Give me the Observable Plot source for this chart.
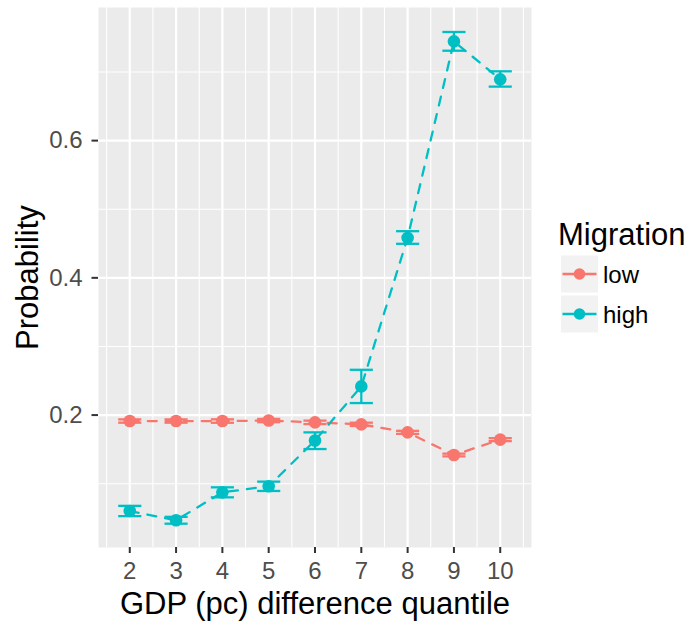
<!DOCTYPE html>
<html><head><meta charset="utf-8">
<script src="https://cdn.jsdelivr.net/npm/d3@7"></script>
<script src="https://cdn.jsdelivr.net/npm/@observablehq/plot@0.6"></script>
<style>
body{margin:0;background:#fff;}
#wrap{position:relative;width:689px;height:621px;font-family:"Liberation Sans",Arial,sans-serif;}
#legend{position:absolute;left:540px;top:200px;}
</style></head><body>
<div id="wrap"></div>
<script>
// ---- data ----
const quantiles = [2, 3, 4, 5, 6, 7, 8, 9, 10];
const groups = ["low", "high"];
const groupColors = ["#F8766D", "#00BFC4"];

const lowMean = [0.1913, 0.1913, 0.1913, 0.1920, 0.1894, 0.1865, 0.1748, 0.1418, 0.1642];
const lowLo   = [0.1889, 0.1889, 0.1888, 0.1896, 0.1869, 0.1841, 0.1726, 0.1398, 0.1620];
const lowHi   = [0.1937, 0.1937, 0.1938, 0.1944, 0.1919, 0.1889, 0.1770, 0.1438, 0.1664];

const highMean = [0.0602, 0.0467, 0.0874, 0.0962, 0.1630, 0.2418, 0.4583, 0.7446, 0.6893];
const highLo   = [0.0527, 0.0417, 0.0801, 0.0894, 0.1505, 0.2175, 0.4496, 0.7310, 0.6787];
const highHi   = [0.0677, 0.0517, 0.0947, 0.1030, 0.1748, 0.2660, 0.4680, 0.7583, 0.7010];

const yTicks = [0.2, 0.4, 0.6];
const yMinor = [0.1, 0.3, 0.5, 0.7];
const xMinor = [1.5, 2.5, 3.5, 4.5, 5.5, 6.5, 7.5, 8.5, 9.5, 10.5];

const xTitle = "GDP (pc) difference quantile";
const yTitle = "Probability";
const legendTitle = "Migration";

// ---- table ----
const series = {low: [lowMean, lowLo, lowHi], high: [highMean, highLo, highHi]};
const rows = [];
for (const g of groups) {
  const [m, lo, hi] = series[g];
  quantiles.forEach((q, i) => rows.push({q, group: g, mean: m[i], lo: lo[i], hi: hi[i]}));
}
const capHalf = 0.25; // errorbar width 0.5

const lw = 2.3;
const chart = Plot.plot({
  width: 689, height: 621,
  marginLeft: 98, marginRight: 158, marginTop: 7, marginBottom: 74,
  style: {fontFamily: "'Liberation Sans', Arial, sans-serif", background: "white", overflow: "visible"},
  x: {domain: [1.325, 10.675]},
  y: {domain: [0.007, 0.794]},
  color: {domain: groups, range: groupColors},
  marks: [
    Plot.frame({fill: "#EBEBEB", stroke: "none"}),
    Plot.gridX(xMinor, {stroke: "white", strokeOpacity: 1, strokeWidth: 1.1}),
    Plot.gridX(quantiles, {stroke: "white", strokeOpacity: 1, strokeWidth: 2.2}),
    Plot.gridY(yMinor, {stroke: "white", strokeOpacity: 1, strokeWidth: 1.1}),
    Plot.gridY(yTicks, {stroke: "white", strokeOpacity: 1, strokeWidth: 2.2}),
    Plot.axisX(quantiles, {tickSize: 6, tickPadding: 8, fontSize: 24, fill: "#4D4D4D", stroke: "#333333", strokeWidth: 2, label: null}),
    Plot.axisX({ticks: [], label: xTitle, labelAnchor: "center", labelArrow: "none", labelOffset: 66, fontSize: 31, fill: "black"}),
    Plot.axisY(yTicks, {tickSize: 6.5, tickPadding: 9.5, fontSize: 24, fill: "#4D4D4D", stroke: "#333333", strokeWidth: 2, tickFormat: ".1f", label: null}),
    Plot.axisY({ticks: [], label: yTitle, labelAnchor: "center", labelArrow: "none", labelOffset: 83, fontSize: 31, fill: "black"}),
    Plot.line(rows, {x: "q", y: "mean", z: "group", stroke: "group", strokeWidth: lw, strokeDasharray: "9,9"}),
    Plot.ruleX(rows, {x: "q", y1: "lo", y2: "hi", stroke: "group", strokeWidth: lw}),
    Plot.link(rows, {x1: d => d.q - capHalf, x2: d => d.q + capHalf, y1: "lo", y2: "lo", stroke: "group", strokeWidth: lw}),
    Plot.link(rows, {x1: d => d.q - capHalf, x2: d => d.q + capHalf, y1: "hi", y2: "hi", stroke: "group", strokeWidth: lw}),
    Plot.dot(rows, {x: "q", y: "mean", fill: "group", r: 6.3})
  ]
});
const wrap = document.getElementById("wrap");
wrap.appendChild(chart);

// ---- legend (right side) ----
const ns = "http://www.w3.org/2000/svg";
const leg = document.createElementNS(ns, "svg");
leg.setAttribute("id", "legend");
leg.setAttribute("width", 149); leg.setAttribute("height", 140);
leg.style.overflow = "visible";
leg.style.fontFamily = "'Liberation Sans', Arial, sans-serif";
const t = document.createElementNS(ns, "text");
t.setAttribute("x", 18); t.setAttribute("y", 45); t.setAttribute("font-size", 31);
t.textContent = legendTitle;
leg.appendChild(t);
groups.forEach((g, i) => {
  const cy = 74 + i * 40;
  const rect = document.createElementNS(ns, "rect");
  rect.setAttribute("x", 21); rect.setAttribute("y", cy - 18.5);
  rect.setAttribute("width", 37); rect.setAttribute("height", 37);
  rect.setAttribute("fill", "#F2F2F2");
  leg.appendChild(rect);
  const ln = document.createElementNS(ns, "line");
  ln.setAttribute("x1", 22.5); ln.setAttribute("x2", 56.5);
  ln.setAttribute("y1", cy); ln.setAttribute("y2", cy);
  ln.setAttribute("stroke", groupColors[i]); ln.setAttribute("stroke-width", lw);
  leg.appendChild(ln);
  const c = document.createElementNS(ns, "circle");
  c.setAttribute("cx", 39.5); c.setAttribute("cy", cy); c.setAttribute("r", 5.8);
  c.setAttribute("fill", groupColors[i]);
  leg.appendChild(c);
  const tx = document.createElementNS(ns, "text");
  tx.setAttribute("x", 63); tx.setAttribute("y", cy + 9);
  tx.setAttribute("font-size", 24);
  tx.textContent = g;
  leg.appendChild(tx);
});
wrap.appendChild(leg);
</script>
</body></html>
